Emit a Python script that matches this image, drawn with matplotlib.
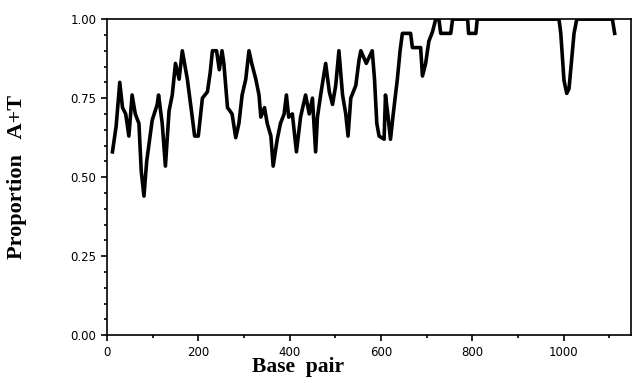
import matplotlib
matplotlib.use("Agg")
import matplotlib.pyplot as plt
from matplotlib.ticker import MultipleLocator

base_pair = [12, 20, 28, 34, 41, 48, 55, 62, 70, 75, 81, 87, 99, 110, 113, 121, 128,
             136, 143, 150, 158, 165, 176, 185, 192, 200, 209, 220, 226, 231, 240, 246,
             252, 256, 264, 274, 282, 289, 296, 304, 311, 317, 326, 333, 337, 345, 351,
             359, 364, 373, 380, 388, 393, 398, 406, 415, 424, 435, 443, 450, 457, 461,
             468, 479, 487, 494, 501, 508, 516, 523, 528, 534, 545, 552, 556, 568, 581,
             586, 591, 596, 607, 610, 615, 621, 627, 636, 642, 647, 665, 669, 687, 691,
             698, 705, 713, 720, 727, 731, 753, 757, 790, 792, 808, 811, 990, 994, 1001,
             1007, 1012, 1023, 1029, 1107, 1112]
prop_at = [0.58, 0.66, 0.80, 0.72, 0.70, 0.63, 0.76, 0.70, 0.67, 0.52, 0.44, 0.55,
           0.68, 0.73, 0.76, 0.67, 0.535, 0.71, 0.76, 0.86, 0.81, 0.90, 0.81, 0.71,
           0.63, 0.63, 0.75, 0.77, 0.83, 0.90, 0.90, 0.84, 0.90, 0.86, 0.72, 0.70,
           0.625, 0.67, 0.76, 0.81, 0.90, 0.86, 0.81, 0.76, 0.69, 0.72, 0.67, 0.63,
           0.535, 0.62, 0.67, 0.70, 0.76, 0.69, 0.70, 0.58, 0.69, 0.76, 0.70, 0.75,
           0.58, 0.69, 0.76, 0.86, 0.77, 0.73, 0.79, 0.90, 0.76, 0.70, 0.63, 0.75,
           0.79, 0.87, 0.90, 0.86, 0.90, 0.81, 0.67, 0.63, 0.62, 0.76, 0.70, 0.62,
           0.70, 0.81, 0.90, 0.955, 0.955, 0.91, 0.91, 0.82, 0.86, 0.93, 0.96, 1.0,
           1.0, 0.955, 0.955, 1.0, 1.0, 0.955, 0.955, 1.0, 1.0, 0.955, 0.806, 0.765,
           0.78, 0.955, 1.0, 1.0, 0.955]

x_ticks = [0, 200, 400, 600, 800, 1000]
y_ticks = [0.00, 0.25, 0.50, 0.75, 1.00]
y_tick_labels = ["0.00", "0.25", "0.50", "0.75", "1.00"]

fig = plt.figure(figsize=(6.33, 3.83), dpi=100)
ax = fig.add_axes([0.169, 0.125, 0.828, 0.825])
ax.plot(base_pair, prop_at, color="black", linewidth=2.6, solid_joinstyle="round")
ax.set_xlim(0, 1148)
ax.set_ylim(0, 1.0)
ax.set_xticks(x_ticks)
ax.set_yticks(y_ticks)
ax.set_yticklabels(y_tick_labels)
ax.xaxis.set_minor_locator(MultipleLocator(100))
ax.yaxis.set_minor_locator(MultipleLocator(0.05))
ax.tick_params(which="both", direction="out", top=False, right=False, width=1.2,
               labelsize=8.5, colors="black")
ax.tick_params(which="major", length=4)
ax.tick_params(which="minor", length=2.5)
for lab in ax.get_xticklabels() + ax.get_yticklabels():
    lab.set_family("DejaVu Sans")
for s in ax.spines.values():
    s.set_linewidth(1.2)
ax.set_xlabel("Base  pair", family="Liberation Serif", fontweight="bold", fontsize=15.5)
ax.xaxis.set_label_coords(0.364, -0.07)
ax.set_ylabel("Proportion   A+T", family="Liberation Serif", fontweight="bold",
              fontsize=16)
ax.yaxis.set_label_coords(-0.152, 0.5)
fig.savefig("out.png", dpi=100)
